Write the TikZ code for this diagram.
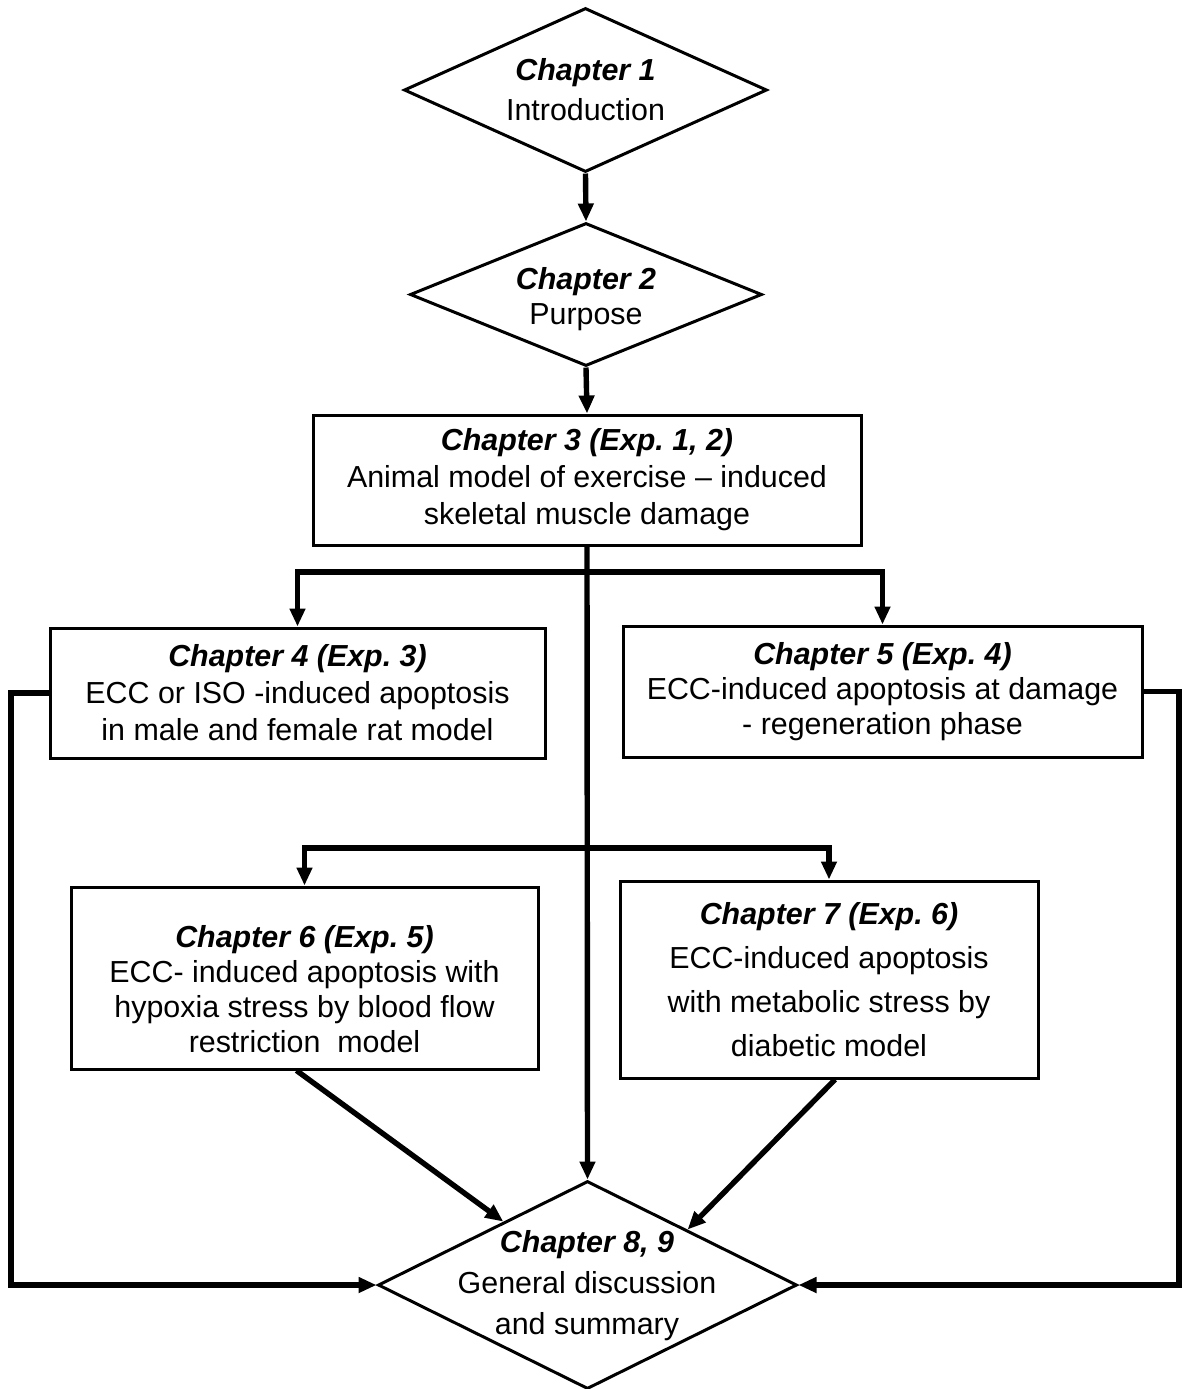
\documentclass[tikz,border=0pt]{standalone}
\usepackage{fontspec}
\setmainfont{Liberation Sans}
\frenchspacing
\usetikzlibrary{shapes.geometric,arrows.meta}
\tikzset{
  chapbox/.style={draw, line width=1.5pt, rectangle, align=center, inner sep=0pt,
    font=\fontsize{15.2}{18.5}\selectfont},
  chapdiamond/.style={draw, line width=1.5pt, diamond, inner sep=0pt},
  chaptext/.style={align=center, inner sep=0pt, font=\fontsize{15.2}{20}\selectfont},
  flow/.style={line width=2.7pt, -{Triangle[length=9pt,width=7.5pt]}}
}
\newcommand{\chap}[1]{\textbf{\textit{#1}}}

\begin{document}
\begin{tikzpicture}[x=0.5pt,y=-0.5pt]
\useasboundingbox (0,0) rectangle (1182,1389);

\node[chapdiamond, minimum width=181.5pt, minimum height=82pt] (ch1) at (585.5,90) {};
\node[chaptext] (ch1txt) at (585.5,90) {\chap{Chapter 1}\\Introduction};

\node[chapdiamond, minimum width=176pt, minimum height=71.5pt] (ch2) at (586,294.5) {};
\node[chaptext, font=\fontsize{15.2}{17.5}\selectfont] (ch2txt) at (586,299) {\chap{Chapter 2}\\Purpose};

\node[chapbox, minimum width=274pt, minimum height=65pt] (ch3) at (587,480)
  {\chap{Chapter 3 (Exp. 1, 2)}\\Animal model of exercise -- induced\\skeletal muscle damage};

\node[chapbox, minimum width=247.5pt, minimum height=65pt] (ch4) at (297.5,693)
  {\chap{Chapter 4 (Exp. 3)}\\ECC or ISO -induced apoptosis\\in male and female rat model};
\node[chapbox, minimum width=259.5pt, minimum height=65.5pt, font=\fontsize{15.2}{17.5}\selectfont] (ch5) at (882.5,691.5)
  {\chap{Chapter 5 (Exp. 4)}\\ECC-induced apoptosis at damage\\- regeneration phase};

\node[chapbox, minimum width=233.5pt, minimum height=91pt, font=\fontsize{15.2}{17.5}\selectfont] (ch6) at (304.5,978)
  {\rule{0pt}{22pt}\chap{Chapter 6 (Exp. 5)}\\ECC- induced apoptosis with\\hypoxia stress by blood flow\\restriction\ \ model};
\node[chapbox, minimum width=209pt, minimum height=98.5pt, font=\fontsize{15.2}{22}\selectfont] (ch7) at (829,979.5)
  {\chap{Chapter 7 (Exp. 6)}\\ECC-induced apoptosis\\with metabolic stress by\\diabetic model};

\node[chapdiamond, minimum width=209.5pt, minimum height=104pt] (ch8) at (587.5,1285) {};
\node[chaptext, font=\fontsize{15.2}{20.5}\selectfont] (ch8txt) at (587,1286)
  {\chap{Chapter 8, 9}\\General discussion\\and summary};

\coordinate (br1) at (587,572);
\coordinate (br2) at (587,848);
\coordinate (lft) at (11,0);
\coordinate (rgt) at (1179,0);

\draw[flow] (ch1.south) -- (ch2.north);
\draw[flow] (ch2.south) -- (ch3.north);
\draw[flow] (ch3.south) -- (ch8.north);
\draw[flow] (br1) -| (ch4.north);
\draw[flow] (br1) -| (ch5.north);
\draw[flow] (br2) -| (ch6.north);
\draw[flow] (br2) -| (ch7.north);
\draw[flow] (ch4.west) -- (ch4.west -| lft) |- (ch8.west);
\draw[flow] (ch5.east) -- (ch5.east -| rgt) |- (ch8.east);
\draw[flow] ([xshift=-4pt]ch6.south) -- (ch8.143);
\draw[flow] ([xshift=3pt]ch7.south) -- (ch8.29);

\end{tikzpicture}
\end{document}
